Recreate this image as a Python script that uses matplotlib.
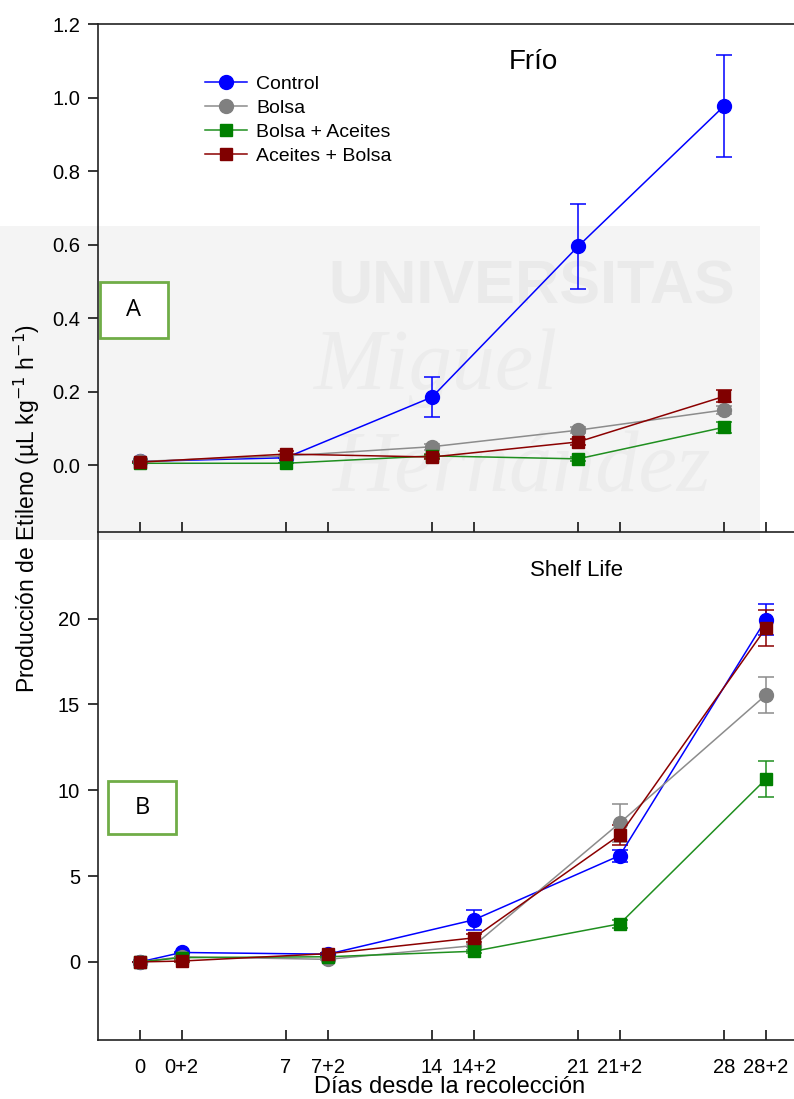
import numpy as np
import matplotlib.pyplot as plt
from matplotlib.patches import Rectangle
from matplotlib.lines import Line2D

plt.rcParams['font.family'] = ['Liberation Sans', 'DejaVu Sans']

# days since harvest; "+2" means two extra days of shelf life at room temperature
dias_frio = [0, 7, 14, 21, 28]
dias_shelf = [0, 2, 9, 16, 23, 30]
tick_pos = [0, 2, 7, 9, 14, 16, 21, 23, 28, 30]
tick_lab = ['0', '0+2', '7', '7+2', '14', '14+2', '21', '21+2', '28', '28+2']

# cold storage (uL kg-1 h-1)
frio_control = [0.010, 0.020, 0.185, 0.595, 0.977]
frio_control_err = [0.0, 0.0, 0.055, 0.115, 0.138]
frio_bolsa = [0.010, 0.025, 0.050, 0.095, 0.150]
frio_bolsa_err = [0.0, 0.0, 0.008, 0.008, 0.010]
frio_bolsa_ac = [0.005, 0.005, 0.025, 0.017, 0.103]
frio_bolsa_ac_err = [0.0, 0.0, 0.005, 0.005, 0.015]
frio_ac_bolsa = [0.008, 0.030, 0.022, 0.063, 0.187]
frio_ac_bolsa_err = [0.0, 0.008, 0.005, 0.008, 0.016]

# shelf life
shelf_control = [0.0, 0.55, 0.45, 2.45, 6.2, 19.95]
shelf_control_err = [0.0, 0.05, 0.05, 0.6, 0.35, 0.9]
shelf_bolsa = [0.0, 0.30, 0.15, 0.95, 8.1, 15.55]
shelf_bolsa_err = [0.0, 0.05, 0.05, 0.1, 1.1, 1.07]
shelf_bolsa_ac = [0.0, 0.25, 0.30, 0.62, 2.22, 10.65]
shelf_bolsa_ac_err = [0.0, 0.05, 0.05, 0.1, 0.25, 1.03]
shelf_ac_bolsa = [0.0, 0.05, 0.48, 1.40, 7.40, 19.45]
shelf_ac_bolsa_err = [0.0, 0.05, 0.05, 0.25, 0.6, 1.05]

nombres = ['Control', 'Bolsa', 'Bolsa + Aceites', 'Aceites + Bolsa']
colores = ['#0000ff', '#808080', '#008000', '#800000']
lineas = ['#0000ff', '#8c8c8c', '#1f8f1f', '#8b0000']
marcas = ['o', 'o', 's', 's']
tam = [10, 10, 9, 9]

W, H = 794, 1099
fig = plt.figure(figsize=(W / 100, H / 100), dpi=100)

def fx(px):
    return px / W

def fy(py):
    return 1 - py / H

# faint watermark band behind the upper panel
fig.patches.append(Rectangle((0, fy(540)), fx(760), fy(226) - fy(540),
                             transform=fig.transFigure, facecolor='#f4f4f4',
                             edgecolor='none', zorder=-2))
fig.text(fx(532), fy(288), 'UNIVERSITAS', ha='center', va='center', fontsize=44,
         fontweight='bold', color='#eaeaea', zorder=-1)
fig.text(fx(435), fy(368), 'Miguel', ha='center', va='center', fontsize=62,
         family=['Liberation Serif'], style='italic', color='#ececec', zorder=-1)
fig.text(fx(522), fy(470), 'Hernández', ha='center', va='center', fontsize=62,
         family=['Liberation Serif'], style='italic', color='#ececec', zorder=-1)

ax_left = fx(98)
ax_w = 1 - ax_left
ax1 = fig.add_axes([ax_left, fy(532), ax_w, fy(24) - fy(532)])
ax2 = fig.add_axes([ax_left, fy(1040), ax_w, fy(532) - fy(1040)])

frio = [(frio_control, frio_control_err), (frio_bolsa, frio_bolsa_err),
        (frio_bolsa_ac, frio_bolsa_ac_err), (frio_ac_bolsa, frio_ac_bolsa_err)]
shelf = [(shelf_control, shelf_control_err), (shelf_bolsa, shelf_bolsa_err),
         (shelf_bolsa_ac, shelf_bolsa_ac_err), (shelf_ac_bolsa, shelf_ac_bolsa_err)]

for i in range(4):
    y, e = frio[i]
    ax1.errorbar(dias_frio, y, yerr=e, color=lineas[i], lw=1.1, marker=marcas[i],
                 ms=tam[i], mfc=colores[i], mec=colores[i], ecolor=lineas[i],
                 elinewidth=1.1, capsize=5.5, capthick=1.1)
    y, e = shelf[i]
    ax2.errorbar(dias_shelf, y, yerr=e, color=lineas[i], lw=1.1, marker=marcas[i],
                 ms=tam[i], mfc=colores[i], mec=colores[i], ecolor=lineas[i],
                 elinewidth=1.1, capsize=5.5, capthick=1.1)

handles = [Line2D([], [], color=lineas[i], lw=1.1, marker=marcas[i], ms=tam[i],
                  mfc=colores[i], mec=colores[i]) for i in range(4)]

for ax in (ax1, ax2):
    ax.set_facecolor('none')
    ax.set_xlim(-2.01, 31.35)
    ax.set_xticks(tick_pos)
    ax.spines['right'].set_visible(False)
    for s in ('left', 'bottom', 'top'):
        ax.spines[s].set_linewidth(1.2)
        ax.spines[s].set_color('#222222')
    ax.tick_params(axis='x', direction='in', length=7, width=1.1, pad=13, labelsize=14.5)
    ax.tick_params(axis='y', direction='out', length=7, width=1.1, pad=6, labelsize=14.5)

ax1.set_ylim(-0.182, 1.2)
ax1.set_yticks([0.0, 0.2, 0.4, 0.6, 0.8, 1.0, 1.2])
ax1.set_yticklabels(['0.0', '0.2', '0.4', '0.6', '0.8', '1.0', '1.2'])
ax1.set_xticklabels([])

ax2.set_ylim(-4.55, 25.05)
ax2.set_yticks([0, 5, 10, 15, 20])
ax2.spines['top'].set_visible(False)
ax2.set_xticklabels(tick_lab)
ax2.set_xlabel('Días desde la recolección', fontsize=17, va='top')
ax2.xaxis.set_label_coords((450 - 98) / 696, (1040 - 1076) / 508)

ax1.text(0.625, 0.925, 'Frío', transform=ax1.transAxes, ha='center', va='center', fontsize=20)
ax2.text(0.688, 0.925, 'Shelf Life', transform=ax2.transAxes, ha='center', va='center', fontsize=16)

ax1.legend(handles=handles, labels=nombres, loc='upper left', bbox_to_anchor=(0.142, 0.915),
           frameon=False, fontsize=14, handlelength=2.2, handletextpad=0.45,
           labelspacing=0.33, borderaxespad=0)

fig.text(fx(27), fy(508), r'Producción de Etileno (µL kg$^{-1}$ h$^{-1}$)', rotation=90,
         ha='center', va='center', fontsize=16.5)

# panel letters in green boxes
for letra, (x0, y0, x1, y1) in [('A', (100, 282, 168, 338)), ('B', (108, 781, 176, 834))]:
    fig.patches.append(Rectangle((fx(x0), fy(y1)), fx(x1 - x0), fy(y0) - fy(y1),
                                 transform=fig.transFigure, facecolor='white',
                                 edgecolor='#70ad47', lw=2, zorder=5))
    fig.text(fx((x0 + x1) / 2), fy((y0 + y1) / 2), letra, ha='center', va='center',
             fontsize=17, family=['Open Sans', 'DejaVu Sans'], zorder=6)

fig.savefig('out.png', dpi=100)
